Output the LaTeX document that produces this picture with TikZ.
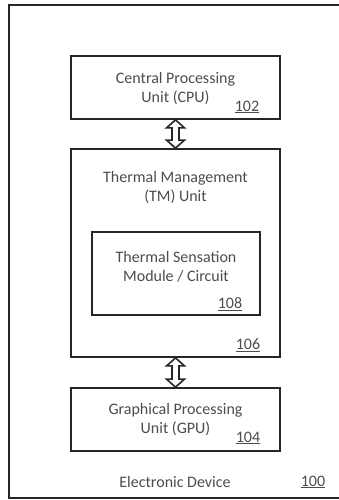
\documentclass[tikz,border=0pt]{standalone}
\usepackage{fontspec}
\setmainfont{Carlito}
\usetikzlibrary{calc}
\begin{document}
\begin{tikzpicture}[x=1pt,y=-1pt,
  box/.style={draw=black!85,line width=1.8pt,minimum width=209pt,inner sep=0pt},
  txt/.style={text=black!70,font=\fontsize{16}{19}\selectfont,align=center,inner sep=0pt},
  num/.style={text=black!70,font=\fontsize{16}{19}\selectfont,inner sep=0pt},
  arr/.style={draw=black!85,line width=1.6pt,fill=white,line join=miter}]
\useasboundingbox (0,0) rectangle (338,500);
\draw[black!85,line width=2.4pt] (9,5) rectangle (360,498);
\node[box,minimum height=63pt] (cpu) at (175.5,87.5) {};
\node[txt] (cput) at (175.5,88.5) {Central Processing\\Unit (CPU)};
\node[num] (n102) at (247,107) {\underline{102}};
\node[box,minimum height=208pt] (tm) at (175.5,253) {};
\node[txt] (tmt) at (175.5,187.5) {Thermal Management\\(TM) Unit};
\node[box,minimum width=168pt,minimum height=83pt] (ts) at (176,273.5) {};
\node[txt] (tst) at (176,266.5) {Thermal Sensation\\Module / Circuit};
\node[num] (n108) at (230,304) {\underline{108}};
\node[num] (n106) at (248,345) {\underline{106}};
\node[box,minimum height=63pt] (gpu) at (175.5,419.5) {};
\node[txt] (gput) at (175.5,419.5) {Graphical Processing\\Unit (GPU)};
\node[num] (n104) at (248,438) {\underline{104}};
\node[txt] (ed) at (175,482) {Electronic Device};
\node[num] (n100) at (313,482) {\underline{100}};
\foreach \a/\b in {cpu/tm,tm/gpu}{
  \draw[arr] let \p1=(\a.south), \p2=(\b.north) in
    (\x1,\y1) -- (\x1+9pt,\y1-8pt) -- (\x1+3.5pt,\y1-8pt) -- (\x1+3.5pt,\y2+8pt) -- (\x1+9pt,\y2+8pt)
    -- (\x2,\y2) -- (\x1-9pt,\y2+8pt) -- (\x1-3.5pt,\y2+8pt) -- (\x1-3.5pt,\y1-8pt) -- (\x1-9pt,\y1-8pt) -- cycle;
}
\end{tikzpicture}
\end{document}
